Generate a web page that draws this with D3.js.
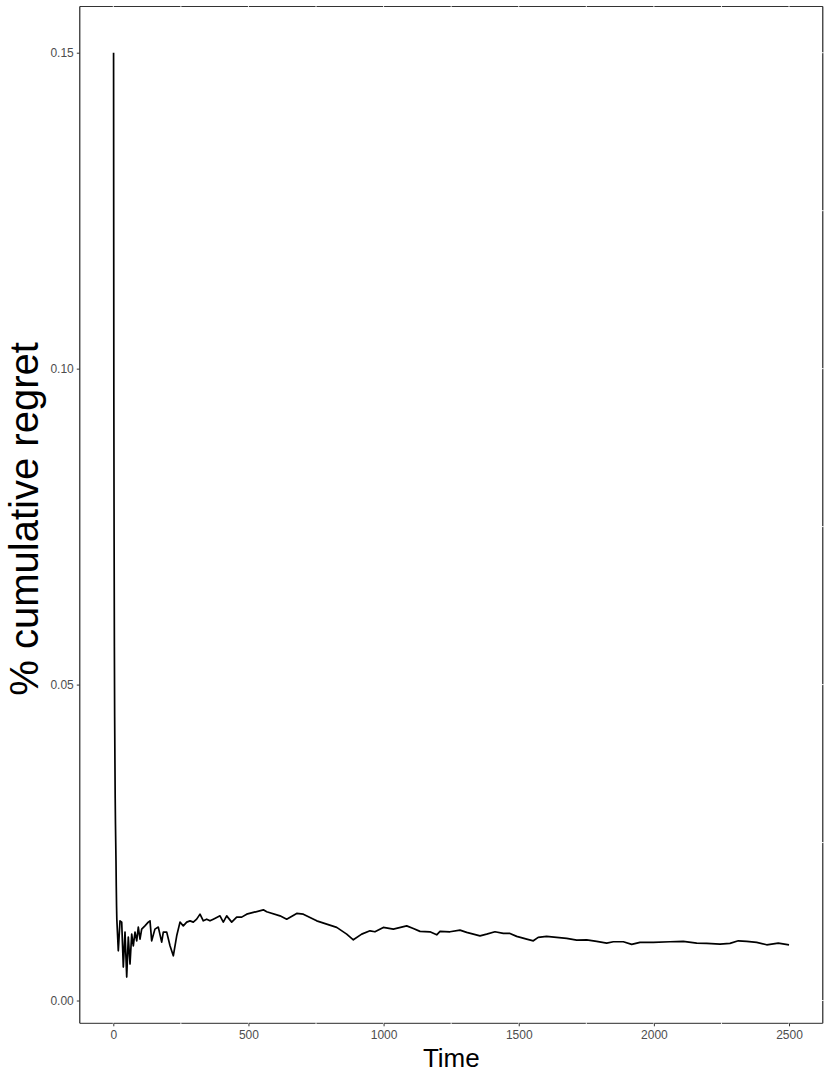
<!DOCTYPE html>
<html>
<head>
<meta charset="utf-8">
<script src="https://cdn.jsdelivr.net/npm/d3@7"></script>
<style>
  html, body { margin: 0; padding: 0; background: #ffffff; }
  svg { display: block; }
</style>
</head>
<body>
<script>
// ---- data ----
const time = [1, 2, 3, 4, 5, 6, 7, 8, 9, 10, 11, 12, 13, 18.5, 24.8, 31.1, 37, 43.3, 49.6, 55.5, 61.8, 68.1, 74, 80.3, 86.6, 92.5, 98.8, 105, 117, 129.5, 135.8, 142, 154, 166.5, 179, 185, 197.6, 209.8, 222, 234.6, 246.8, 259, 271.6, 283.8, 296, 308.5, 320.8, 333, 345.5, 357.7, 370, 382.6, 394.7, 407, 419.5, 438, 456.5, 475, 493.5, 518, 555, 567.5, 616.7, 641.5, 678.5, 703, 727.7, 752.5, 789.5, 826.5, 863.5, 888, 919, 949.7, 968, 999, 1036, 1085.5, 1110, 1134.7, 1171.6, 1196.5, 1208.7, 1245.6, 1282.6, 1307.4, 1356.6, 1381.4, 1412, 1443, 1467.6, 1492.4, 1529.4, 1554, 1572, 1603, 1640, 1677.4, 1714.4, 1751.4, 1788.4, 1825.4, 1850, 1887, 1918, 1948.6, 1997.8, 2059.6, 2108.8, 2158.4, 2195.4, 2244.6, 2281.6, 2312.3, 2343.4, 2380.4, 2417.4, 2460.2, 2500];
const regret = [0.15, 0.096, 0.073, 0.056, 0.045, 0.038, 0.032, 0.028, 0.025, 0.022, 0.018, 0.015, 0.0129, 0.00787, 0.01261, 0.01241, 0.0053, 0.01083, 0.00371, 0.01004, 0.00577, 0.01051, 0.00866, 0.01083, 0.00945, 0.01162, 0.00972, 0.0113, 0.01182, 0.01241, 0.01261, 0.00945, 0.0113, 0.01162, 0.00925, 0.01083, 0.01083, 0.00866, 0.00708, 0.01024, 0.01241, 0.01182, 0.01241, 0.01261, 0.01241, 0.01288, 0.01367, 0.01261, 0.01288, 0.01261, 0.01288, 0.01315, 0.0134, 0.01241, 0.0134, 0.01241, 0.0132, 0.0132, 0.01367, 0.01394, 0.01435, 0.01404, 0.0134, 0.01288, 0.01378, 0.01367, 0.01315, 0.01261, 0.01209, 0.01157, 0.01051, 0.00961, 0.01051, 0.01103, 0.01088, 0.01157, 0.0113, 0.01182, 0.01141, 0.01094, 0.01088, 0.0104, 0.01094, 0.01088, 0.01114, 0.01078, 0.01024, 0.01051, 0.01088, 0.01062, 0.01062, 0.01015, 0.00972, 0.00945, 0.00999, 0.01015, 0.00999, 0.00983, 0.00956, 0.00961, 0.00936, 0.00909, 0.0093, 0.0093, 0.00888, 0.0092, 0.0092, 0.0093, 0.00936, 0.00909, 0.00904, 0.00893, 0.00904, 0.00945, 0.00936, 0.0092, 0.00882, 0.00909, 0.00882];
const xTicks = [0, 500, 1000, 1500, 2000, 2500];
const xMinor = [250, 750, 1250, 1750, 2250];
const yTicks = [0.00, 0.05, 0.10, 0.15];
const yMinor = [0.025, 0.075, 0.125];
const xTitle = "Time";
const yTitle = "% cumulative regret";

// ---- layout ----
const W = 830, H = 1075;
const panel = { left: 79.8, right: 822.8, top: 6.5, bottom: 1023.3 };

const svg = d3.select("body").append("svg").attr("width", W).attr("height", H);

function expand(ext) { const r = ext[1] - ext[0]; return [ext[0] - 0.05 * r, ext[1] + 0.05 * r]; }
const x = d3.scaleLinear().domain(expand(d3.extent(time))).range([panel.left, panel.right]);
const y = d3.scaleLinear().domain(expand(d3.extent(regret))).range([panel.bottom, panel.top]);

const data = time.map((t, i) => ({ t, v: regret[i] }));

// panel background
svg.append("rect").attr("x", panel.left).attr("y", panel.top)
  .attr("width", panel.right - panel.left).attr("height", panel.bottom - panel.top)
  .attr("fill", "#ffffff");

// line
svg.append("path").datum(data)
  .attr("fill", "none").attr("stroke", "#000000").attr("stroke-width", 1.7)
  .attr("stroke-linejoin", "round")
  .attr("d", d3.line().x(d => x(d.t)).y(d => y(d.v)));

// panel border
const border = svg.append("g");
border.append("line").attr("x1", panel.left).attr("x2", panel.right).attr("y1", panel.top).attr("y2", panel.top)
  .attr("stroke", "#333333").attr("stroke-width", 1.1);
border.append("line").attr("x1", panel.right).attr("x2", panel.right).attr("y1", panel.top).attr("y2", panel.bottom)
  .attr("stroke", "#111111").attr("stroke-width", 1.1);
border.append("line").attr("x1", panel.left).attr("x2", panel.right).attr("y1", panel.bottom).attr("y2", panel.bottom)
  .attr("stroke", "#555555").attr("stroke-width", 1.2);
border.append("line").attr("x1", panel.left).attr("x2", panel.left).attr("y1", panel.top).attr("y2", panel.bottom)
  .attr("stroke", "#111111").attr("stroke-width", 1.1);

// white grid lines (they cut small gaps in the border)
const grid = svg.append("g").attr("stroke", "#ffffff").attr("stroke-width", 0.9);
xTicks.concat(xMinor).forEach(v => {
  grid.append("line").attr("x1", x(v)).attr("x2", x(v)).attr("y1", panel.top - 1).attr("y2", panel.top + 1);
  grid.append("line").attr("x1", x(v)).attr("x2", x(v)).attr("y1", panel.bottom - 1).attr("y2", panel.bottom + 1);
});
yTicks.concat(yMinor).forEach(v => {
  grid.append("line").attr("y1", y(v)).attr("y2", y(v)).attr("x1", panel.right - 1).attr("x2", panel.right + 1);
});

// axes
const xAxis = d3.axisBottom(x).tickValues(xTicks).tickSize(3).tickPadding(4).tickFormat(d3.format("d"));
const gx = svg.append("g").attr("transform", `translate(0,${panel.bottom})`).call(xAxis);
gx.select(".domain").remove();
gx.selectAll(".tick line").attr("stroke", "#333333").attr("stroke-width", 1);
gx.selectAll(".tick text").attr("fill", "#4d4d4d").attr("font-size", "12px")
  .attr("font-family", "'Liberation Sans', Arial, sans-serif");

const yAxis = d3.axisLeft(y).tickValues(yTicks).tickSize(3).tickPadding(3).tickFormat(d3.format(".2f"));
const gy = svg.append("g").attr("transform", `translate(${panel.left},0)`).call(yAxis);
gy.select(".domain").remove();
gy.selectAll(".tick line").attr("stroke", "#333333").attr("stroke-width", 1);
gy.selectAll(".tick text").attr("fill", "#4d4d4d").attr("font-size", "12px")
  .attr("font-family", "'Liberation Sans', Arial, sans-serif");

// titles
svg.append("text").attr("x", (panel.left + panel.right) / 2).attr("y", 1066.5)
  .attr("text-anchor", "middle").attr("font-size", "26px").attr("fill", "#000000")
  .attr("font-family", "'Liberation Sans', Arial, sans-serif").text(xTitle);

svg.append("text")
  .attr("transform", `translate(38,${(panel.top + panel.bottom) / 2 + 4}) rotate(-90)`)
  .attr("text-anchor", "middle").attr("font-size", "40px").attr("fill", "#000000")
  .attr("font-family", "'Liberation Sans', Arial, sans-serif").text(yTitle);
</script>
</body>
</html>
